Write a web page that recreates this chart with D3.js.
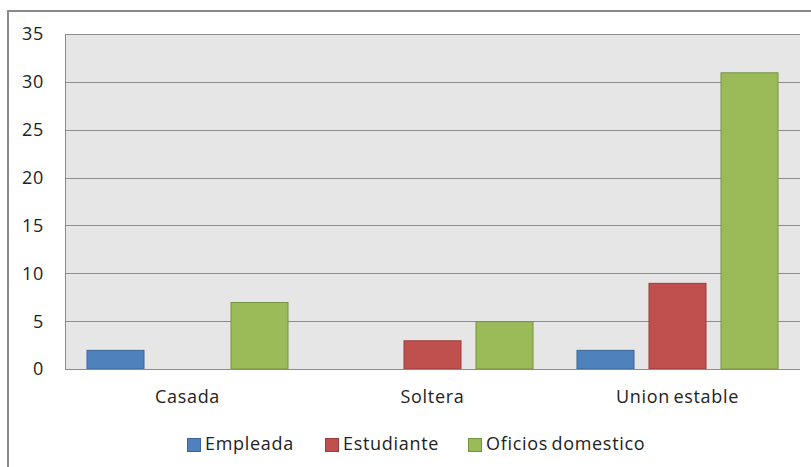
<!DOCTYPE html>
<html><head><meta charset="utf-8">
<script src="https://cdn.jsdelivr.net/npm/d3@7"></script>
<style>body{margin:0;background:#fff;}svg{display:block;}</style>
</head><body>
<svg id="c" width="811" height="467"></svg>
<script>
const categories = ["Casada", "Soltera", "Union estable"];
const seriesNames = ["Empleada", "Estudiante", "Oficios domestico"];
const empleada = [2, 0, 2];
const estudiante = [0, 3, 9];
const oficios = [7, 5, 31];
const yTicks = [0, 5, 10, 15, 20, 25, 30, 35];

const seriesValues = [empleada, estudiante, oficios];
const colors = ["#4f81bd", "#c0504d", "#9bbb59"];
const strokes = ["#3a6798", "#9a3c3a", "#779143"];

const svg = d3.select("#c");
const font = "'Open Sans', Lato, sans-serif";
const fs = 18, ls = 0.7;

// outer chart border
svg.append("rect").attr("x", 8).attr("y", 11).attr("width", 820).attr("height", 470)
  .attr("fill", "#fff").attr("stroke", "#8a8a8a").attr("stroke-width", 2);

const L = 65, R = 800, T = 34, B = 369;
const x0 = d3.scaleBand().domain(categories).range([L, R]).padding(0);
const x1 = d3.scaleBand().domain(seriesNames).range([0, x0.bandwidth()])
  .paddingInner(0.1944).paddingOuter(0.2986);
const y = d3.scaleLinear().domain([0, 35]).range([B, T]);

svg.append("rect").attr("x", L).attr("y", T).attr("width", R - L).attr("height", B - T)
  .attr("fill", "#e6e6e6");

// gridlines
svg.append("g").selectAll("line").data(yTicks).join("line")
  .attr("x1", L).attr("x2", R)
  .attr("y1", d => Math.round(y(d)) + 0.5).attr("y2", d => Math.round(y(d)) + 0.5)
  .attr("stroke", "#8c8c8c").attr("stroke-width", 1);

// left axis line
svg.append("line").attr("x1", L + 0.5).attr("x2", L + 0.5).attr("y1", T).attr("y2", B)
  .attr("stroke", "#8c8c8c");

// y tick labels
svg.append("g").selectAll("text").data(yTicks).join("text")
  .attr("x", 44).attr("y", d => y(d)).attr("dy", "0.36em")
  .attr("text-anchor", "end").attr("font-family", font).attr("font-size", fs)
  .attr("letter-spacing", ls)
  .attr("fill", "#222").text(d => d);

// bars
const groups = svg.append("g").selectAll("g").data(categories).join("g")
  .attr("transform", c => `translate(${x0(c)},0)`);
groups.selectAll("rect").data((c, i) => seriesNames.map((s, j) => ({s, j, v: seriesValues[j][i]})))
  .join("rect")
  .filter(d => d.v > 0)
  .attr("x", d => x1(d.s) + 0.5).attr("width", x1.bandwidth() - 1)
  .attr("y", d => y(d.v) + 0.5).attr("height", d => y(0) - y(d.v) - 0.5)
  .attr("fill", d => colors[d.j]).attr("stroke", d => strokes[d.j]).attr("stroke-width", 1);

// bottom axis line
svg.append("line").attr("x1", L).attr("x2", R).attr("y1", B + 0.5).attr("y2", B + 0.5)
  .attr("stroke", "#8c8c8c");

// category labels
svg.append("g").selectAll("text").data(categories).join("text")
  .attr("x", c => x0(c) + x0.bandwidth() / 2).attr("y", 403)
  .attr("text-anchor", "middle").attr("font-family", font).attr("font-size", fs)
  .attr("letter-spacing", ls).attr("word-spacing", -2)
  .attr("fill", "#222").text(c => c);

// legend
const legX = [187, 325, 468];
const leg = svg.append("g").selectAll("g").data(seriesNames).join("g")
  .attr("transform", (s, i) => `translate(${legX[i]},0)`);
leg.append("rect").attr("x", 0.5).attr("y", 438.5).attr("width", 13).attr("height", 13)
  .attr("fill", (s, i) => colors[i]).attr("stroke", (s, i) => strokes[i]);
leg.append("text").attr("x", 18).attr("y", 450).attr("font-family", font).attr("font-size", fs)
  .attr("letter-spacing", ls).attr("word-spacing", -2)
  .attr("fill", "#222").text(s => s);
</script>
</body></html>
